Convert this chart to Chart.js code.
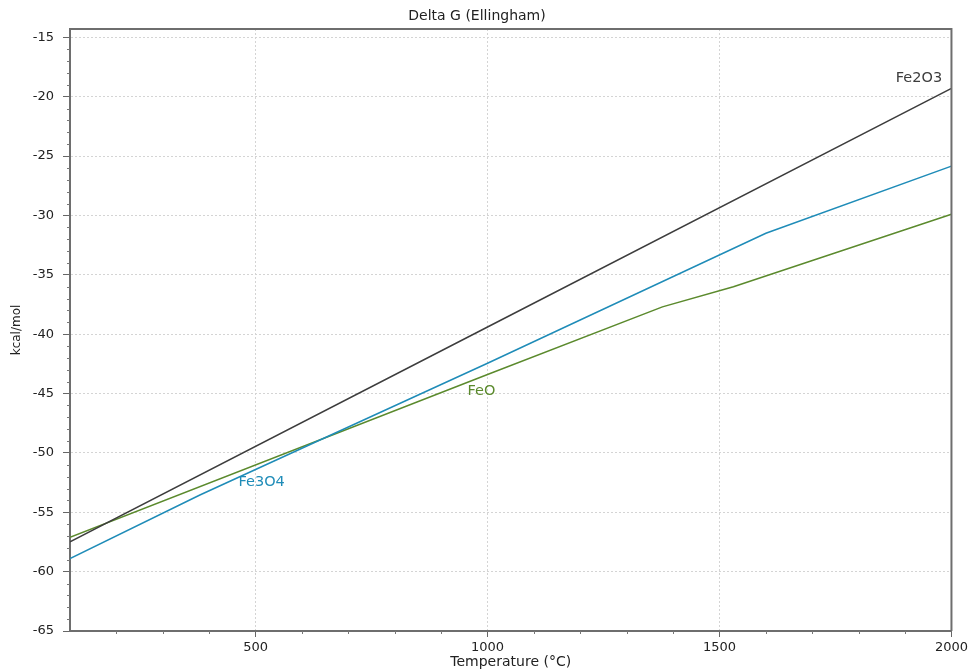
<!DOCTYPE html>
<html>
<head>
<meta charset="utf-8">
<style>
  html, body { margin: 0; padding: 0; background: #fff; }
  canvas { display: block; }
</style>
<script src="https://cdn.jsdelivr.net/npm/chart.js@4/dist/chart.umd.min.js"></script>
</head>
<body>
<canvas id="chart" width="971" height="669"></canvas>
<script>
// temperatures (°C) and delta G (kcal/mol)
const fe2o3T = [100, 1000, 2000];
const fe2o3G = [-57.5, -39.4, -19.3];
const fe3o4T = [100, 380, 1000, 1600, 2000];
const fe3o4G = [-58.9, -53.55, -42.45, -31.5, -25.85];
const feoT = [100, 1000, 1377, 1530, 2000];
const feoG = [-57.1, -43.4, -37.7, -36.0, -29.9];

const seriesNames = ['Fe2O3', 'Fe3O4', 'FeO'];
const seriesColors = ['#3d3d3d', '#1f8cb8', '#5b8a2d'];
// where each curve label sits, in data units
const labelT = [1930, 513, 987];
const labelG = [-18.45, -52.45, -44.8];

// axis ticks
const xTicks = [500, 1000, 1500, 2000];
const yTicks = [-65, -60, -55, -50, -45, -40, -35, -30, -25, -20, -15];

const FONT = '"DejaVu Sans", Verdana, sans-serif';

function pts(xs, ys) {
  return xs.map((x, i) => ({ x: x, y: ys[i] }));
}

const frame = {
  id: 'frame',
  afterDraw(chart) {
    const { ctx, chartArea: a, scales } = chart;
    ctx.save();
    // box top and right
    ctx.strokeStyle = '#6e6e6e';
    ctx.lineWidth = 2;
    ctx.beginPath();
    ctx.moveTo(a.left, a.top);
    ctx.lineTo(a.right, a.top);
    ctx.lineTo(a.right, a.bottom);
    ctx.stroke();
    // minor ticks
    ctx.strokeStyle = '#777';
    ctx.lineWidth = 1;
    ctx.beginPath();
    for (let t = 200; t < 2000; t += 100) {
      if (t % 500 === 0) continue;
      const px = Math.round(scales.x.getPixelForValue(t)) + 0.5;
      ctx.moveTo(px, a.bottom);
      ctx.lineTo(px, a.bottom + 3);
    }
    for (let g = -64; g <= -15; g += 1) {
      if (g % 5 === 0) continue;
      const py = Math.round(scales.y.getPixelForValue(g)) + 0.5;
      ctx.moveTo(a.left, py);
      ctx.lineTo(a.left - 3, py);
    }
    ctx.stroke();
    // curve labels
    ctx.font = '14.5px ' + FONT;
    ctx.textAlign = 'center';
    ctx.textBaseline = 'middle';
    seriesNames.forEach((n, i) => {
      ctx.fillStyle = seriesColors[i];
      ctx.fillText(n, scales.x.getPixelForValue(labelT[i]), scales.y.getPixelForValue(labelG[i]));
    });
    ctx.restore();
  }
};

new Chart(document.getElementById('chart'), {
  type: 'line',
  data: {
    datasets: [
      { label: 'Fe2O3', data: pts(fe2o3T, fe2o3G) },
      { label: 'Fe3O4', data: pts(fe3o4T, fe3o4G) },
      { label: 'FeO', data: pts(feoT, feoG) }
    ].map((d, i) => Object.assign(d, {
      borderColor: seriesColors[i],
      backgroundColor: seriesColors[i],
      borderWidth: 1.5,
      pointRadius: 0,
      tension: 0,
      fill: false
    }))
  },
  options: {
    responsive: false,
    animation: false,
    layout: { padding: { top: 0, right: 17, bottom: 0, left: 0 } },
    plugins: {
      legend: { display: false },
      tooltip: { enabled: false },
      title: {
        display: true,
        text: 'Delta G (Ellingham)',
        color: '#222',
        font: { family: FONT, size: 14, weight: 'normal', lineHeight: 1.2 },
        padding: { top: 7.5, bottom: 4.7 }
      }
    },
    scales: {
      x: {
        type: 'linear',
        min: 100,
        max: 2000,
        afterFit(s) { s.height = 38; },
        afterBuildTicks(s) { s.ticks = xTicks.map(v => ({ value: v })); },
        ticks: {
          autoSkip: false,
          maxRotation: 0,
          padding: 3,
          color: '#222',
          font: { family: FONT, size: 13 },
          callback: v => String(v)
        },
        grid: {
          color: c => (c.tick && c.tick.value < 2000 ? '#d4d4d4' : 'rgba(0,0,0,0)'),
          tickColor: '#666',
          tickLength: 6,
          lineWidth: 1
        },
        border: { color: '#6e6e6e', width: 2, dash: [2, 2] },
        title: {
          display: true,
          text: 'Temperature (°C)',
          color: '#222',
          font: { family: FONT, size: 14, lineHeight: 1.2 },
          padding: { top: 0, bottom: -1.5 }
        }
      },
      y: {
        type: 'linear',
        min: -65,
        max: -14.3,
        afterFit(s) { s.width = 70; },
        afterBuildTicks(s) { s.ticks = yTicks.map(v => ({ value: v })); },
        ticks: {
          autoSkip: false,
          padding: 9,
          color: '#222',
          font: { family: FONT, size: 13 },
          callback: v => String(v)
        },
        grid: {
          color: c => (c.tick && c.tick.value > -65 ? '#d4d4d4' : 'rgba(0,0,0,0)'),
          tickColor: '#666',
          tickLength: 7,
          lineWidth: 1
        },
        border: { color: '#6e6e6e', width: 2, dash: [2, 2] },
        title: {
          display: true,
          text: 'kcal/mol',
          color: '#222',
          font: { family: FONT, size: 12, lineHeight: 1.2 },
          padding: { top: 10, bottom: 0 }
        }
      }
    }
  },
  plugins: [frame]
});
</script>
</body>
</html>
